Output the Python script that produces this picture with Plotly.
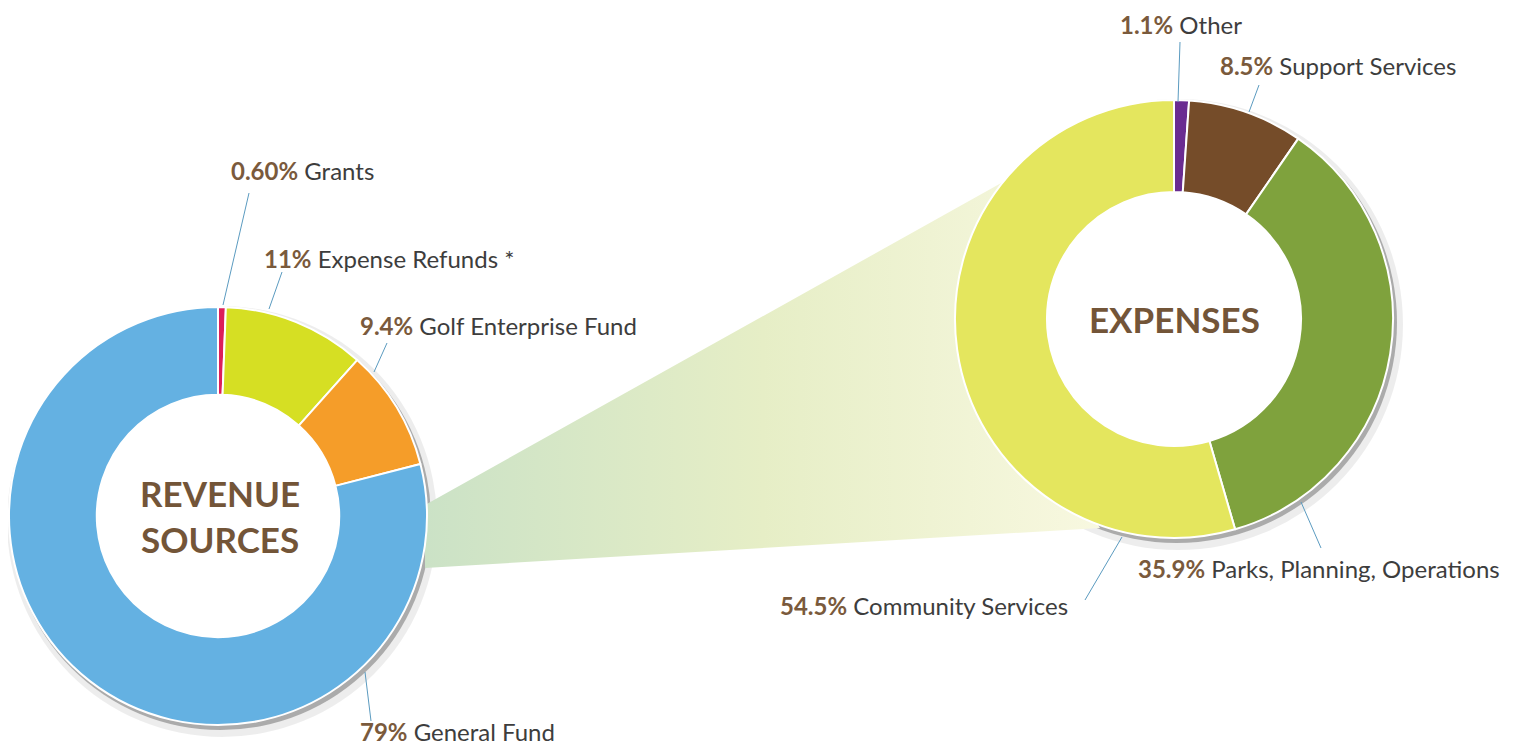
import plotly.graph_objects as go

# ── Data ─────────────────────────────────────────────────
rev_labels = ["Grants", "Expense Refunds *", "Golf Enterprise Fund", "General Fund"]
rev_values = [0.6, 11, 9.4, 79]
rev_text = ["0.60%", "11%", "9.4%", "79%"]
rev_colors = ["#dc1f5a", "#d6df23", "#f59d29", "#64b1e2"]

exp_labels = ["Other", "Support Services", "Parks, Planning, Operations", "Community Services"]
exp_values = [1.1, 8.5, 35.9, 54.5]
exp_text = ["1.1%", "8.5%", "35.9%", "54.5%"]
exp_colors = ["#6a2c91", "#754c29", "#7fa23d", "#e4e65e"]

# ── Style ────────────────────────────────────────────────
# the page body keeps an 8px margin, so the figure is drawn 8px smaller
# and the hidden pixel axis starts at 8 to keep reference coordinates
PAGE_W, PAGE_H, OFF = 1517, 747, 8
W, H = PAGE_W - OFF, PAGE_H - OFF
FONT = "Lato, 'Open Sans', sans-serif"
BROWN = "#735538"
PCT_CLR = "#7a5a3c"
TXT_CLR = "#3d3d3d"
LEADER = "#5b9bc0"
HOLE = 0.58

# donut geometry in page pixels: centre x, centre y, outer radius
LEFT = (218, 516, 209)
RIGHT = (1174, 319, 219)


def dom(c):
    cx, cy, r = c
    cx, cy = cx - OFF, cy - OFF
    return dict(x=[(cx - r) / W, (cx + r) / W], y=[(H - cy - r) / H, (H - cy + r) / H])


fig = go.Figure()

# connecting cone (decoration)
fig.add_trace(go.Scatter(
    x=[425, 1003, 995, 1100, 425, 425],
    y=[505, 182, 360, 528, 568, 505],
    mode="lines", fill="toself", line=dict(width=0),
    fillgradient=dict(type="horizontal",
                      colorscale=[[0, "#cbe2c6"], [0.5, "#e6eec6"], [1, "#f8f8e0"]]),
    hoverinfo="skip", showlegend=False,
))

for labels, values, colors, c in [
    (rev_labels, rev_values, rev_colors, LEFT),
    (exp_labels, exp_values, exp_colors, RIGHT),
]:
    fig.add_trace(go.Pie(
        labels=labels, values=values, hole=HOLE,
        sort=False, direction="clockwise", rotation=0,
        marker=dict(colors=colors, line=dict(color="white", width=2)),
        textinfo="none", domain=dom(c), showlegend=False,
        hovertemplate="<b>%{label}</b><br>%{value}%<extra></extra>",
    ))

# soft shadows under the donuts, then white discs for the holes
shapes = []
for cx, cy, r in [LEFT, RIGHT]:
    shapes.append(dict(type="circle", xref="x", yref="y", layer="below",
                       x0=cx - r - 2, x1=cx + r + 10, y0=cy - r - 1, y1=cy + r + 12,
                       fillcolor="rgba(0,0,0,0.07)", line=dict(width=0)))
    shapes.append(dict(type="circle", xref="x", yref="y", layer="below",
                       x0=cx - r + 1, x1=cx + r + 4, y0=cy - r + 2, y1=cy + r + 5,
                       fillcolor="rgba(90,90,90,0.45)", line=dict(width=0)))
    rh = r * HOLE + 2
    shapes.append(dict(type="circle", xref="x", yref="y", layer="below",
                       x0=cx - rh, x1=cx + rh, y0=cy - rh, y1=cy + rh,
                       fillcolor="white", line=dict(width=0)))

# leader lines
leaders = [
    (249, 193, 223, 305), (282, 272, 269, 309), (387, 343, 374, 372), (365, 672, 371, 721),
    (1180, 42, 1178, 102), (1259, 85, 1249, 112), (1301, 502, 1321, 548), (1122, 537, 1085, 600),
]
for x0, y0, x1, y1 in leaders:
    shapes.append(dict(type="line", xref="x", yref="y", layer="above",
                       x0=x0, y0=y0, x1=x1, y1=y1, line=dict(color=LEADER, width=1)))

# label positions (left edge, middle)
label_pos = [
    (229, 170), (262, 258), (358, 325), (358, 731),
    (1118, 24), (1218, 65), (1136, 568), (778, 605),
]
texts = list(zip(rev_text, rev_labels)) + list(zip(exp_text, exp_labels))

annotations = []
for (x, y), (pct, name) in zip(label_pos, texts):
    annotations.append(dict(
        x=x, y=y, xref="x", yref="y", xanchor="left", yanchor="middle", showarrow=False,
        text=f"<b><span style='color:{PCT_CLR}'>{pct}</span></b> {name}",
        font=dict(family=FONT, size=24, color=TXT_CLR),
    ))

annotations.append(dict(x=LEFT[0] + 2, y=LEFT[1], xref="x", yref="y", showarrow=False,
                        text="<b>REVENUE<br>SOURCES</b>",
                        font=dict(family=FONT, size=35, color=BROWN)))
annotations.append(dict(x=RIGHT[0], y=RIGHT[1], xref="x", yref="y", showarrow=False,
                        text="<b>EXPENSES</b>",
                        font=dict(family=FONT, size=35, color=BROWN)))

fig.update_layout(
    width=W, height=H,
    margin=dict(l=0, r=0, t=0, b=0),
    paper_bgcolor="white", plot_bgcolor="white",
    xaxis=dict(range=[OFF, PAGE_W], visible=False, fixedrange=True),
    yaxis=dict(range=[PAGE_H, OFF], visible=False, fixedrange=True),
    shapes=shapes, annotations=annotations,
    font=dict(family=FONT),
    showlegend=False,
)

fig.write_html("out.html")
